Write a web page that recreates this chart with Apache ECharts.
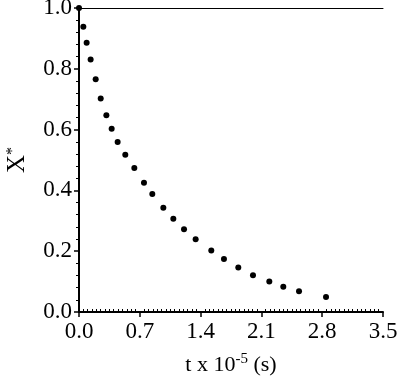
<!DOCTYPE html>
<html>
<head>
<meta charset="utf-8">
<script src="https://cdn.jsdelivr.net/npm/echarts@6/dist/echarts.min.js"></script>
<style>
  html, body { margin: 0; padding: 0; background: #fff; }
  #chart { width: 399px; height: 380px; }
</style>
</head>
<body>
<div id="chart"></div>
<script>
// t x 10^-5 (s)
const timeValues = [0, 0.05, 0.088, 0.134, 0.192, 0.25, 0.315, 0.376, 0.445, 0.533, 0.637, 0.748,
  0.844, 0.971, 1.086, 1.209, 1.343, 1.523, 1.669, 1.834, 2.003, 2.191, 2.352, 2.533, 2.844]
// X*
const xStarValues = [1.0, 0.938, 0.886, 0.831, 0.766, 0.702, 0.647, 0.603, 0.559, 0.517, 0.474, 0.425,
  0.388, 0.343, 0.307, 0.272, 0.239, 0.202, 0.174, 0.146, 0.121, 0.100, 0.083, 0.068, 0.049]

const xRange = [0, 3.5]
const xStep = 0.7
const yRange = [0, 1]
const yStep = 0.2

const FONT = '"Liberation Serif", "Times New Roman", serif'
const points = timeValues.map((t, i) => [t, xStarValues[i]])

const chart = echarts.init(document.getElementById('chart'))
const gridBox = { left: 79, right: 16, top: 8, bottom: 68, containLabel: false, outerBoundsMode: 'none' }

chart.setOption({
  animation: false,
  backgroundColor: '#fff',
  grid: [
    { ...gridBox },
    { ...gridBox }
  ],
  xAxis: [
    {
      type: 'value', gridIndex: 0, position: 'bottom',
      min: xRange[0], max: xRange[1], interval: xStep,
      axisLine: { show: true, lineStyle: { color: '#000', width: 2 } },
      axisTick: { show: true, length: 5, lineStyle: { color: '#000', width: 1.5 } },
      axisLabel: { color: '#000', fontFamily: FONT, fontSize: 23, margin: 8,
        formatter: v => v.toFixed(1) },
      splitLine: { show: false },
      name: 't x 10{s|-5} (s)',
      nameLocation: 'middle', nameGap: 40,
      nameTextStyle: {
        color: '#000', fontFamily: FONT, fontSize: 22, lineHeight: 26, verticalAlign: 'top',
        rich: { s: { fontFamily: FONT, fontSize: 15, lineHeight: 26, verticalAlign: 'top', color: '#000' } }
      }
    },
    {
      // inward minor ticks along the bottom edge
      type: 'value', gridIndex: 1, position: 'bottom',
      min: xRange[0], max: xRange[1], interval: xStep,
      axisLine: { show: false },
      axisTick: { show: false, inside: true },
      minorTick: { show: true, splitNumber: 14, length: 3, lineStyle: { color: '#000', width: 1 } },
      axisLabel: { show: false },
      splitLine: { show: false }
    },
    {
      // top frame line
      type: 'value', gridIndex: 0, position: 'top',
      min: xRange[0], max: xRange[1],
      axisLine: { show: true, lineStyle: { color: '#000', width: 1 } },
      axisTick: { show: false },
      axisLabel: { show: false },
      splitLine: { show: false }
    }
  ],
  yAxis: [
    {
      type: 'value', gridIndex: 0,
      min: yRange[0], max: yRange[1], interval: yStep,
      axisLine: { show: true, lineStyle: { color: '#000', width: 2 } },
      axisTick: { show: true, length: 5, lineStyle: { color: '#000', width: 1.5 } },
      minorTick: { show: true, splitNumber: 5, length: 3, lineStyle: { color: '#000', width: 1 } },
      axisLabel: { color: '#000', fontFamily: FONT, fontSize: 23, margin: 7,
        formatter: v => v.toFixed(1) },
      splitLine: { show: false },
      name: '{b|X}{s|*}',
      nameLocation: 'middle', nameGap: 47, nameRotate: 90,
      nameTextStyle: {
        color: '#000',
        rich: {
          b: { fontFamily: FONT, fontSize: 25, lineHeight: 27, verticalAlign: 'top', color: '#000' },
          s: { fontFamily: FONT, fontSize: 16, lineHeight: 27, verticalAlign: 'top', color: '#000' }
        }
      }
    },
    {
      type: 'value', gridIndex: 1, show: false,
      min: yRange[0], max: yRange[1]
    }
  ],
  series: [
    {
      type: 'scatter',
      xAxisIndex: 0, yAxisIndex: 0,
      symbol: 'circle', symbolSize: 6,
      itemStyle: { color: '#000', opacity: 1 },
      data: points
    }
  ]
})
</script>
</body>
</html>
